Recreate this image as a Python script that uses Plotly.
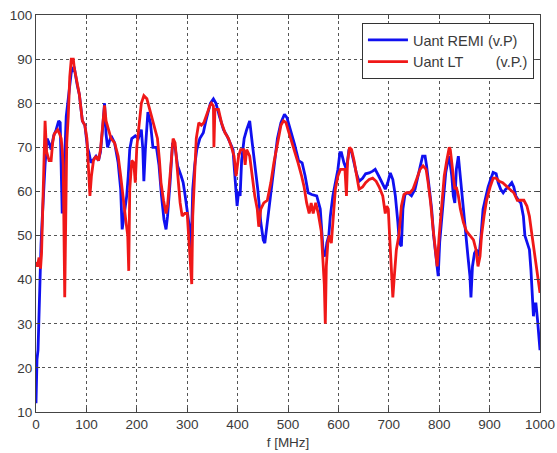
import plotly.graph_objects as go

# Uant REMI (v.P) - blue
f_remi = [0, 2, 4, 6, 8, 10, 12, 15, 18, 22, 26, 30, 35, 40, 45, 48, 50, 52, 55, 57,
          60, 65, 70, 74, 76, 82, 86, 92, 97, 102, 105, 109, 112, 119, 124, 128, 132, 136, 139, 142,
          149, 156, 163, 168, 171, 175, 180, 183, 186, 190, 197, 203, 209, 212, 214, 217, 222, 227, 232, 239,
          244, 249, 254, 258, 261, 266, 271, 276, 281, 288, 292, 296, 301, 305, 308, 311, 315, 319, 325, 332,
          337, 342, 346, 352, 357, 364, 372, 379, 385, 391, 393, 396, 399, 402, 405, 408, 413, 418, 424, 429,
          434, 440, 446, 451, 454, 459, 466, 472, 479, 486, 493, 498, 505, 513, 521, 528, 534, 540, 547, 557,
          564, 567, 570, 574, 577, 581, 584, 589, 594, 599, 603, 606, 611, 616, 621, 626, 631, 636, 641, 648,
          654, 661, 668, 673, 680, 687, 693, 698, 703, 708, 713, 718, 721, 725, 728, 732, 738, 745, 752, 755,
          762, 767, 772, 775, 780, 785, 789, 795, 798, 801, 807, 813, 819, 821, 825, 828, 831, 834, 838, 841,
          844, 849, 853, 857, 861, 863, 866, 870, 874, 879, 883, 887, 893, 897, 902, 907, 913, 917, 922, 927,
          932, 937, 944, 948, 952, 957, 962, 967, 970, 974, 979, 982, 985, 987, 989, 992, 995, 999, 1000]
u_remi = [12, 22, 24, 33, 41, 48, 53, 60.5, 66, 72, 71, 69.5, 72.6, 74, 76, 75.6, 66, 55, 62, 69.5,
          77, 82, 87, 88, 88, 84, 82, 76, 75, 70, 68.8, 66.5, 67, 68, 67, 69, 74, 80, 73, 70,
          72.6, 71, 66.5, 60.5, 51.4, 54.4, 59, 63.5, 69.5, 72, 72.6, 72, 74, 69.5, 62.3, 69.5, 78, 75.6, 70, 70,
          66, 59, 53.6, 51.4, 54.4, 62, 71, 70, 65.8, 63.5, 62, 59, 54.4, 51.4, 47, 60.5, 66, 69.5, 72, 73.3,
          76, 78.6, 80, 81, 80, 77, 74, 72.6, 71, 69.5, 66, 60.5, 56.7, 60, 59, 67, 72, 74, 76, 71,
          66.5, 60.5, 53, 49, 48.3, 53, 59.7, 66.5, 72, 75.6, 77.5, 76.7, 74, 70.7, 67, 66.5, 63.5, 59.7, 59.3, 59,
          56, 50, 46, 45.3, 48.3, 50, 54.4, 59, 62, 65, 68.8, 68.8, 66.5, 65, 69.5, 69, 66.5, 64, 62.3, 63,
          64, 64.2, 64.6, 65, 63.5, 62, 60.5, 62, 64.2, 62.7, 59, 53, 48.3, 47.6, 56, 59.3, 59.7, 59, 60.5, 62,
          65.8, 68, 68, 65.8, 61, 56, 50, 43.8, 40.8, 48.5, 56.7, 64.3, 68, 67, 63.5, 59, 57.4, 65, 68, 64.3,
          59.7, 53.6, 50, 45.3, 40.8, 36, 43, 46, 46.8, 45.3, 50, 56, 59, 61, 62.7, 64.3, 64, 62, 60.5, 59.7,
          60.5, 61, 62, 61, 59, 58, 57.4, 54.4, 50, 48.5, 46.8, 42.3, 36, 31.7, 34.5, 34.5, 31, 25.6, 24]

# Uant LT (v.P.) - red
f_lt = [0, 3, 6, 9, 11, 14, 18, 21, 26, 30, 33, 36, 43, 47, 50, 52, 54, 57, 59, 61,
        64, 67, 70, 74, 76, 82, 86, 92, 97, 101, 104, 107, 110, 114, 119, 124, 128, 132, 136, 139,
        144, 149, 156, 163, 168, 173, 178, 182, 184, 186, 190, 194, 197, 200, 205, 209, 214, 220, 227, 234,
        241, 245, 248, 253, 258, 261, 266, 270, 272, 276, 281, 286, 290, 295, 300, 303, 307, 309, 311, 315,
        318, 323, 328, 333, 337, 342, 345, 348, 352, 353, 355, 362, 368, 375, 382, 388, 393, 397, 402, 406,
        412, 415, 418, 424, 429, 434, 439, 442, 446, 452, 459, 466, 472, 479, 486, 491, 496, 500, 507, 513,
        520, 527, 532, 537, 542, 546, 550, 555, 560, 566, 569, 572, 574, 576, 579, 582, 586, 591, 594, 599,
        604, 609, 613, 616, 618, 622, 626, 631, 636, 641, 648, 654, 661, 668, 675, 681, 688, 693, 696, 699,
        701, 705, 708, 711, 715, 720, 725, 730, 735, 742, 748, 755, 762, 768, 774, 778, 783, 788, 793, 796,
        800, 805, 810, 815, 820, 822, 826, 831, 834, 838, 842, 848, 854, 861, 868, 873, 877, 881, 884, 889,
        894, 901, 907, 913, 919, 926, 934, 940, 948, 955, 962, 968, 974, 979, 983, 988, 992, 997, 1000]
u_lt = [44, 43, 45, 42.5, 46, 62, 76, 69, 67, 67, 71, 73, 74, 73, 72, 69.5, 66, 36, 60, 71,
        77, 86, 90, 90, 88, 84, 82, 76, 75, 72, 66.5, 59, 63.5, 67, 68, 67, 69.5, 75, 79.5, 76,
        74, 72, 71, 68, 63.5, 58, 53.6, 50, 42, 60.5, 67, 66.5, 62, 70, 75, 80, 81.7, 81, 78, 75,
        72, 67, 62, 58, 55, 56.7, 63.5, 70, 72, 71, 63.5, 57.4, 54.4, 55, 55, 50, 44, 39, 54.4, 66,
        72, 75.6, 75, 75.6, 77, 78.6, 79.4, 80, 79.4, 70, 78.6, 78.6, 75.6, 73.3, 72, 70, 68, 63.5, 68, 69.5,
        69.5, 66, 69.5, 68, 63.5, 59, 56, 52, 56, 57.4, 58, 62, 66.5, 71, 75, 76, 75.6, 74, 71.4, 69.5,
        66.5, 63.5, 61, 57.4, 55, 57.4, 55, 57.4, 55, 51, 45, 39, 30, 43, 48.3, 50, 48.3, 56, 60.5, 63.5,
        65, 65, 65, 59, 66.5, 70, 69.5, 67, 63.5, 60.5, 61, 62, 62.7, 63, 62.3, 61, 59, 55, 56.7, 56,
        51.4, 43, 36, 40.8, 46.8, 50, 56.7, 59.3, 59.7, 59.7, 60.5, 62.7, 65, 65.8, 65, 62, 57.4, 51.4, 45.3, 43,
        50, 57.4, 63.5, 67, 70, 69.5, 65, 60.5, 61, 59, 56, 53, 51, 50, 49, 46.8, 43, 45.3, 50, 54.4,
        58, 61, 63, 63, 62.3, 62, 61, 60.5, 59.7, 58, 58, 58, 56.7, 54.4, 51, 46.8, 43.8, 39.2, 37]

x_ticks = list(range(0, 1001, 100))
y_ticks = list(range(10, 101, 10))

FONT = dict(family="Liberation Sans, Arial, sans-serif", size=13.5, color="#3a3a3a")
AXIS = dict(showline=True, linecolor="#444", linewidth=1, mirror="ticks",
            ticks="inside", ticklen=4, tickcolor="#444",
            showgrid=True, gridcolor="#555", gridwidth=1, griddash="dot",
            zeroline=False, tickfont=FONT, automargin=False)

fig = go.Figure()
fig.add_trace(go.Scatter(x=f_remi, y=u_remi, mode="lines", name="Uant REMI (v.P)",
                         line=dict(color="#1010f0", width=2.8)))
fig.add_trace(go.Scatter(x=f_lt, y=u_lt, mode="lines",
                         name="Uant LT\u00a0\u00a0\u00a0\u00a0\u00a0\u00a0\u00a0\u00a0(v.P.)",
                         line=dict(color="#f01818", width=2.8)))

fig.update_layout(
    width=557, height=453,
    margin=dict(l=36, r=17, t=15, b=41),
    paper_bgcolor="white", plot_bgcolor="white",
    font=FONT,
    showlegend=True,
    legend=dict(x=0.988, y=0.98, xanchor="right", yanchor="top",
                bgcolor="white", bordercolor="#333", borderwidth=1,
                font=dict(family="Liberation Sans, Arial, sans-serif", size=14.5, color="#3a3a3a"),
                tracegroupgap=0, itemwidth=40),
    xaxis=dict(AXIS, range=[0, 1000], tickvals=x_ticks,
               title=dict(text="f [MHz]", standoff=6, font=FONT)),
    yaxis=dict(AXIS, range=[10, 100], tickvals=y_ticks),
)

# page has a default body margin; drop it so the figure sits at the window's corner
fig.write_html("out.html", config={"displayModeBar": False},
               post_script="document.body.style.margin='0';")
